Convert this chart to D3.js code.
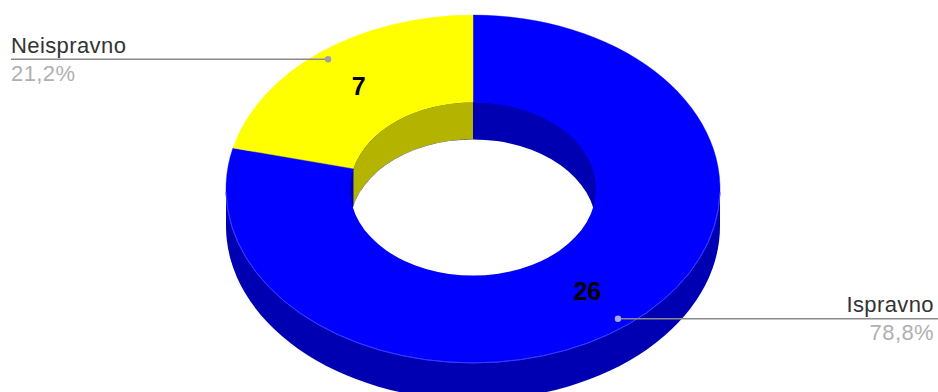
<!DOCTYPE html>
<html><head><meta charset="utf-8">
<script src="https://cdn.jsdelivr.net/npm/d3@7"></script>
<style>html,body{margin:0;padding:0;background:#fff}svg{display:block}text{font-family:"Liberation Sans",Arial,sans-serif}</style>
</head><body><svg id="c" width="938" height="392"></svg>
<script>
const categories = ["Ispravno", "Neispravno"];
const counts = [26, 7];
const percentLabels = ["78,8%", "21,2%"];
const topColors = ["#0000ff", "#ffff00"];
const sideColors = ["#0000b3", "#b3b300"];

const W = 938, cx = 473, cy = 189, R = 247, r = 123, tilt = 0.704, depth = 37;
const svg = d3.select("#c");
svg.append("defs").append("clipPath").attr("id", "hole").append("ellipse")
  .attr("cx", cx).attr("cy", cy).attr("rx", r).attr("ry", r * tilt);

const pie = d3.pie().sort(null).value(d => d);
const arcs = pie(counts);
const ringArc = d3.arc().innerRadius(r).outerRadius(R);
const tf = y => `translate(${cx},${y}) scale(1,${tilt})`;

// outer wall
svg.append("ellipse").attr("cx", cx).attr("cy", cy + depth).attr("rx", R).attr("ry", R * tilt).attr("fill", sideColors[0]);
svg.append("rect").attr("x", cx - R).attr("y", cy).attr("width", 2 * R).attr("height", depth).attr("fill", sideColors[0]);

// top surface
const topFace = svg.append("g").attr("transform", tf(cy));
topFace.selectAll("path").data(arcs).join("path")
  .attr("d", ringArc).attr("fill", (d, i) => topColors[i])
  .attr("stroke", (d, i) => topColors[i]).attr("stroke-width", 0.5);

// inner wall: each slice's inner edge swept straight down by the depth
const wallPath = d => {
  const t = d3.scaleLinear().domain([0, 120]).range([d.startAngle, d.endAngle]);
  const edge = d3.range(121).map(k => [cx + r * Math.sin(t(k)), cy - r * tilt * Math.cos(t(k))]);
  const lower = edge.map(p => [p[0], p[1] + depth]).reverse();
  return d3.line()(edge.concat(lower)) + "Z";
};
const hole = svg.append("g").attr("clip-path", "url(#hole)");
hole.selectAll("path").data(arcs).join("path")
  .attr("d", wallPath).attr("fill", (d, i) => sideColors[i]);
hole.append("ellipse").attr("cx", cx).attr("cy", cy + depth).attr("rx", r).attr("ry", r * tilt).attr("fill", "#fff");

// faint highlight where the top face meets the outer wall
svg.append("path")
  .attr("d", d3.arc().innerRadius(R).outerRadius(R).startAngle(Math.PI / 2 + 0.02).endAngle(3 * Math.PI / 2 - 0.02)())
  .attr("transform", tf(cy)).attr("fill", "none").attr("stroke", "#3c3cff").attr("stroke-width", 0.8)
  .attr("vector-effect", "non-scaling-stroke");

// value labels
const mid = d => ringArc.centroid(d);
svg.selectAll("text.val").data(arcs).join("text").attr("class", "val")
  .attr("x", d => cx + mid(d)[0]).attr("y", d => cy + mid(d)[1] * tilt)
  .attr("dy", "0.34em").attr("text-anchor", "middle")
  .attr("font-size", 25).attr("font-weight", 700).attr("fill", "#000")
  .text(d => d.data);

// leaders
const anchor = d => {
  const a = (d.startAngle + d.endAngle) / 2;
  return [cx + 234.5 * Math.sin(a), cy - 234.5 * Math.cos(a) * tilt];
};
const leaders = svg.selectAll("g.lead").data(arcs).join("g").attr("class", "lead");
leaders.each(function (d, i) {
  const g = d3.select(this), [x, y] = anchor(d);
  const right = i === 0;
  g.append("line").attr("x1", x).attr("x2", right ? W : 11).attr("y1", y).attr("y2", y)
    .attr("stroke", "#8a8a8a").attr("stroke-width", 1.5);
  g.append("circle").attr("cx", x).attr("cy", y).attr("r", 3.2).attr("fill", right ? "#a9a9ee" : "#a0a0a0");
  const tx = right ? 934 : 11, anc = right ? "end" : "start";
  g.append("text").attr("x", tx).attr("y", y - 6.5).attr("text-anchor", anc)
    .attr("font-size", 22).attr("letter-spacing", 0.4).attr("fill", "#333").text(categories[i]);
  g.append("text").attr("x", tx).attr("y", y + 21.5).attr("text-anchor", anc)
    .attr("font-size", 22).attr("letter-spacing", 0.4).attr("fill", "#b0b0b0").text(percentLabels[i]);
});
</script></body></html>
